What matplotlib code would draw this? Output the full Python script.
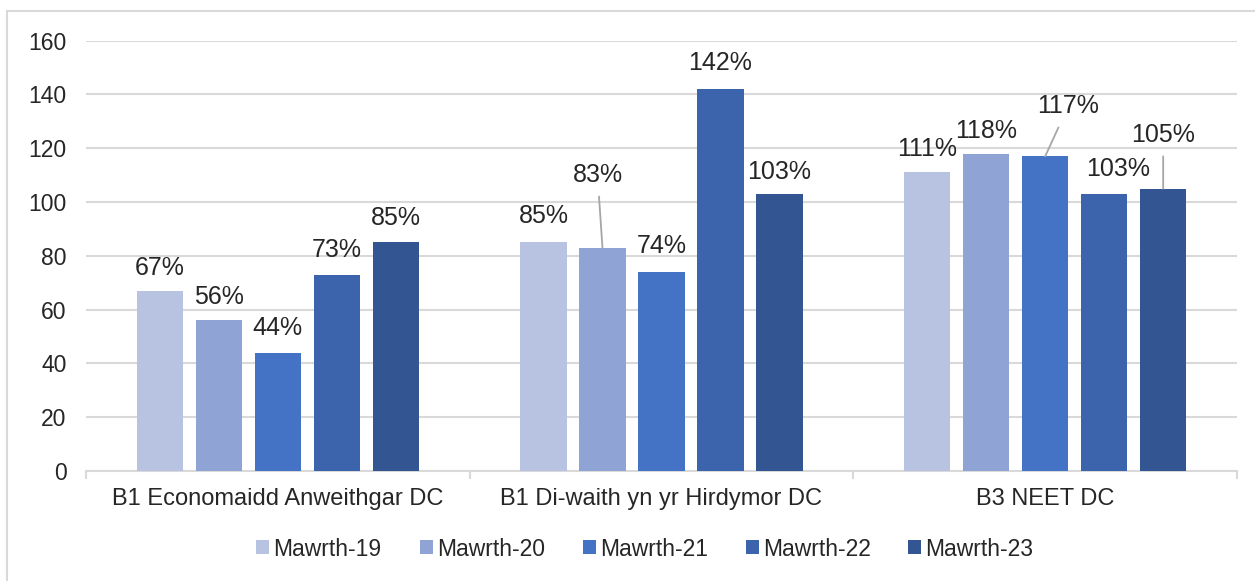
import matplotlib.pyplot as plt
import numpy as np

plt.rcParams['font.family'] = ['Liberation Sans', 'DejaVu Sans']

categories = ["B1 Economaidd Anweithgar DC",
              "B1 Di-waith yn yr Hirdymor DC",
              "B3 NEET DC"]
series = ["Mawrth-19", "Mawrth-20", "Mawrth-21", "Mawrth-22", "Mawrth-23"]
values = {
    "Mawrth-19": [67, 85, 111],
    "Mawrth-20": [56, 83, 118],
    "Mawrth-21": [44, 74, 117],
    "Mawrth-22": [73, 142, 103],
    "Mawrth-23": [85, 103, 105],
}
colors = ["#B8C3E2", "#8FA3D4", "#4472C4", "#3C64AD", "#335693"]

# label offsets in pixels (dx, dy) from bar top, per series then category
offsets = {
    "Mawrth-19": [(0, 23), (0, 26), (0, 23)],
    "Mawrth-20": [(0, 23), (-5, 73), (0, 23)],
    "Mawrth-21": [(0, 25), (0, 26), (23, 50)],
    "Mawrth-22": [(0, 25), (0, 26), (14, 25)],
    "Mawrth-23": [(0, 24), (0, 22), (0, 54)],
}
leaders = {("Mawrth-20", 1), ("Mawrth-21", 2), ("Mawrth-23", 2)}

fig = plt.figure(figsize=(12.55, 5.81), dpi=100)
ax = fig.add_axes([86 / 1255, 1 - 471 / 581, (1237 - 86) / 1255, (471 - 40.7) / 581])

# outer chart border
fig.add_artist(plt.Rectangle((7 / 1255, -0.1), 1.2, 1 - 11 / 581 + 0.1,
                             transform=fig.transFigure, fill=False,
                             edgecolor="#D9D9D9", linewidth=1.5))

x = np.arange(len(categories))
width = 0.12
step = 0.1538
px = 72 / 100
for i, s in enumerate(series):
    xs = x + (i - 2) * step
    bars = ax.bar(xs, values[s], width, color=colors[i], label=s, zorder=3)
    for j, b in enumerate(bars):
        dx, dy = offsets[s][j]
        kw = {}
        if (s, j) in leaders:
            kw["arrowprops"] = dict(arrowstyle="-", color="#A6A6A6", lw=1.3,
                                    shrinkA=5, shrinkB=0)
        ax.annotate(f"{values[s][j]}%", xy=(b.get_x() + b.get_width() / 2, b.get_height()),
                    xytext=(dx * px, dy * px), textcoords="offset points",
                    ha="center", va="center", fontsize=18, color="#262626", **kw)

ax.set_ylim(0, 160)
ax.set_xlim(-0.5, 2.5)
ax.set_yticks(np.arange(0, 161, 20))
ax.yaxis.grid(True, color="#D9D9D9", linewidth=1.5, zorder=0)
ax.set_xticks(x)
ax.set_xticklabels(categories)
ax.set_xticks([-0.5, 0.5, 1.5, 2.5], minor=True)
ax.tick_params(axis="x", which="major", length=0, pad=12, labelsize=17, labelcolor="#262626")
ax.tick_params(axis="x", which="minor", length=6, width=1.5, color="#D9D9D9")
ax.tick_params(axis="y", length=0, pad=14, labelsize=16.5, labelcolor="#262626")
for sp in ["top", "right", "left"]:
    ax.spines[sp].set_visible(False)
ax.spines["bottom"].set_color("#D9D9D9")
ax.spines["bottom"].set_linewidth(1.5)

ax.legend(loc="center", bbox_to_anchor=(645 / 1255, (581 - 549) / 581), bbox_transform=fig.transFigure,
          ncol=5, frameon=False, fontsize=16.5, handlelength=0.57, handleheight=0.57,
          handletextpad=0.18, columnspacing=1.65, labelcolor="#262626")

plt.savefig("out.png", dpi=100)
